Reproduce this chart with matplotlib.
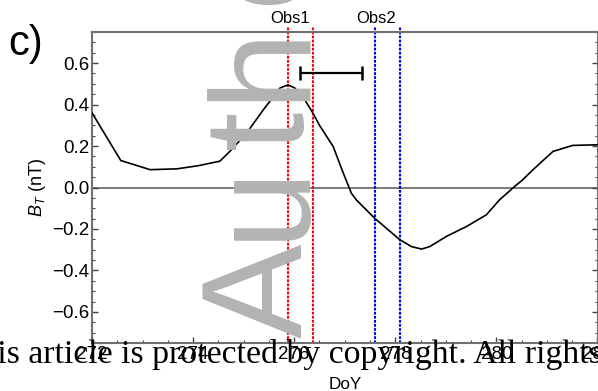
import matplotlib
matplotlib.use("Agg")
import matplotlib.pyplot as plt
from matplotlib.ticker import MultipleLocator

plt.rcParams["font.family"] = ["Liberation Sans", "DejaVu Sans"]
plt.rcParams["mathtext.fontset"] = "custom"
plt.rcParams["mathtext.rm"] = "Liberation Sans"
plt.rcParams["mathtext.it"] = "Liberation Sans:italic"

# B_T curve
doy = [272.0, 272.57, 273.15, 273.68, 274.1, 274.53, 274.73, 275.06, 275.39,
       275.72, 275.88, 276.01, 276.21, 276.37, 276.5, 276.77, 276.97, 277.13,
       277.23, 277.59, 278.09, 278.32, 278.52, 278.68, 279.01, 279.41, 279.80,
       280.06, 280.36, 280.52, 280.72, 281.12, 281.51, 282.0]
bt = [0.36, 0.13, 0.086, 0.09, 0.105, 0.127, 0.175, 0.263, 0.375,
      0.48, 0.495, 0.48, 0.423, 0.359, 0.30, 0.198, 0.07, -0.027,
      -0.06, -0.148, -0.252, -0.285, -0.297, -0.285, -0.236, -0.188, -0.132,
      -0.06, 0.005, 0.037, 0.085, 0.174, 0.203, 0.206]

obs1_lines = [275.87, 276.37]
obs2_lines = [277.59, 278.09]
obs_names = ["Obs1", "Obs2"]
bar_center, bar_half, bar_y = 276.73, 0.615, 0.553

# watermark letters and where each one starts (pixels from the top)
wm_letters = ["A", "u", "t", "h", "o"]
wm_start_px = [338, 240, 149, 101, 4]

W, H = 598, 391
fig = plt.figure(figsize=(W / 100, H / 100), dpi=100)

# journal watermark, spaced out letters
for ch, yp in zip(wm_letters, wm_start_px):
    fig.text(302 / W, (H - yp) / H, ch, rotation=90, rotation_mode="anchor",
             ha="left", va="baseline", fontsize=102, color="#b3b3b3", zorder=0)

ax = fig.add_axes([92 / W, 48 / H, 505.5 / W, 311 / H])
ax.set_facecolor("none")

ax.axhline(0, color="#7a7a7a", lw=1.4, zorder=1)
ax.plot(doy, bt, color="black", lw=1.2, zorder=3)

for xs, c, name in [(obs1_lines, "red", obs_names[0]), (obs2_lines, "blue", obs_names[1])]:
    for x in xs:
        ax.axvline(x, ymin=0, ymax=1.016, color=c, lw=1.5, ls=(0, (1.3, 0.65)),
                   clip_on=False, zorder=2)
    ax.text(xs[0] + 0.04, 1.029, name, ha="center", va="baseline", fontsize=12,
            transform=ax.get_xaxis_transform(), clip_on=False)

ax.errorbar(bar_center, bar_y, xerr=bar_half, color="black", lw=1.6,
            capsize=4.8, capthick=1.8, zorder=4)

ax.set_xlim(272, 282)
ax.set_ylim(-0.75, 0.75)
ax.xaxis.set_major_locator(MultipleLocator(2))
ax.xaxis.set_minor_locator(MultipleLocator(0.5))
ax.yaxis.set_minor_locator(MultipleLocator(0.05))
ax.set_yticks([-0.6, -0.4, -0.2, 0.0, 0.2, 0.4, 0.6])
ax.set_yticklabels(["\u22120.6", "\u22120.4", "\u22120.2", "0.0", "0.2", "0.4", "0.6"])
ax.tick_params(which="both", direction="in", right=True, top=False,
               color="#444444", labelsize=13.5, pad=2)
ax.tick_params(which="major", length=4, width=1)
ax.tick_params(which="minor", length=2.2, width=0.8)
for s in ax.spines.values():
    s.set_color("#707070")
    s.set_linewidth(1.5)

ax.set_xlabel("DoY", fontsize=12.3, labelpad=10)
ax.set_ylabel(r"$B_T$ (nT)", fontsize=13, labelpad=2.5)

fig.text(8 / W, (H - 55) / H, "c)", fontsize=30, ha="left", va="baseline")

# copyright notice across the bottom
fig.text(-40 / W, (H - 363) / H,
         "This article is protected by copyright. All rights reserved.",
         family="Liberation Serif", fontsize=24.3, ha="left", va="baseline",
         color="black", zorder=5)

fig.savefig("out.png", dpi=100)
